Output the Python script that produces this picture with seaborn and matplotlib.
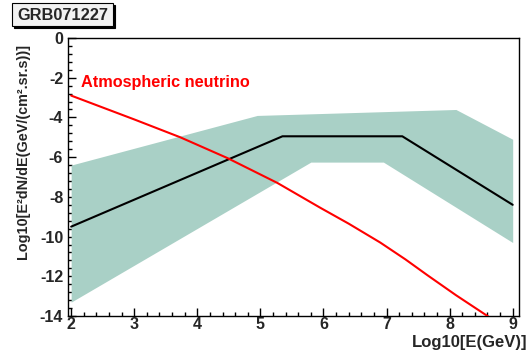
import numpy as np
import pandas as pd
import matplotlib
matplotlib.use("Agg")
import matplotlib.pyplot as plt
import seaborn as sns
from matplotlib.ticker import MultipleLocator
from matplotlib.patches import Rectangle

sns.set_style("white")
plt.rcParams['font.family'] = ['Liberation Sans', 'DejaVu Sans']
plt.rcParams['axes.unicode_minus'] = False

# Data
grb_x = [2.0, 5.35, 7.25, 9.0]
grb_y = [-9.5, -4.95, -4.95, -8.4]

band_upper_x = [2.0, 4.95, 8.1, 9.0]
band_upper_y = [-6.4, -3.9, -3.6, -5.1]
band_lower_x = [2.0, 5.8, 6.95, 9.0]
band_lower_y = [-13.3, -6.25, -6.25, -10.3]

atm_x = [2.0, 3.0, 3.73, 4.48, 5.27, 5.95, 6.4, 6.9, 7.3, 7.65, 8.1, 8.6, 9.0]
atm_y = [-2.9, -4.1, -5.0, -6.05, -7.3, -8.55, -9.35, -10.3, -11.15, -11.95, -12.95, -14.0, -14.9]

title = "GRB071227"
xlabel = "Log10[E(GeV)]"
ylabel = "Log10[E²dN/dE(GeV/(cm².sr.s))]"
atm_label = "Atmospheric neutrino"

W, H = 529, 356
fig = plt.figure(figsize=(W / 100, H / 100), dpi=100)
ax = fig.add_axes([68 / W, 1 - 316 / H, (519 - 68) / W, (316 - 38) / H])

# band
xx = np.union1d(band_upper_x, band_lower_x)
up = np.interp(xx, band_upper_x, band_upper_y)
lo = np.interp(xx, band_lower_x, band_lower_y)
ax.fill_between(xx, lo, up, color="#a9d0c6", linewidth=0, zorder=1)

df_grb = pd.DataFrame({"x": grb_x, "y": grb_y})
df_atm = pd.DataFrame({"x": atm_x, "y": atm_y})
sns.lineplot(data=df_grb, x="x", y="y", color="black", linewidth=1.5, ax=ax,
             estimator=None, sort=False, zorder=3)
sns.lineplot(data=df_atm, x="x", y="y", color="#ff0000", linewidth=1.5, ax=ax,
             estimator=None, sort=False, zorder=4)

ax.set_xlim(1.95, 9.1)
ax.set_ylim(-14, 0)
ax.xaxis.set_major_locator(MultipleLocator(1))
ax.xaxis.set_minor_locator(MultipleLocator(0.2))
ax.yaxis.set_major_locator(MultipleLocator(2))
ax.yaxis.set_minor_locator(MultipleLocator(0.4))
ax.tick_params(which="major", direction="in", length=6, width=1, color="black",
               labelsize=11.5, bottom=True, left=True, top=False, right=False)
ax.tick_params(axis="x", which="major", pad=0.5)
ax.tick_params(axis="y", which="major", pad=3.5)
ax.tick_params(which="minor", direction="in", length=3, width=1, color="black",
               bottom=True, left=True, top=False, right=False)
for lab in ax.get_xticklabels() + ax.get_yticklabels():
    lab.set_fontweight("bold")
for s in ax.spines.values():
    s.set_color("black")
    s.set_linewidth(1.0)

ax.set_xlabel("")
ax.set_ylabel("")
fig.text(527 / W, 1 - 343 / H, xlabel, ha="right", va="center", fontsize=12,
         fontweight="bold")
fig.text(23 / W, 1 - 151.5 / H, ylabel, ha="center", va="center", rotation=90,
         fontsize=10.4, fontweight="bold")
fig.text(81 / W, 1 - 83 / H, atm_label, color="#ff0000",
         fontsize=11.7, fontweight="bold", ha="left", va="center")

# title box with shadow
bx0, by1, bx1, by0 = 12, 3, 113, 26
shadow = Rectangle(((bx0 + 2) / W, 1 - (by0 + 2) / H), (bx1 - bx0) / W, (by0 - by1) / H,
                   transform=fig.transFigure, facecolor="black", edgecolor="black",
                   linewidth=0.8)
box = Rectangle((bx0 / W, 1 - by0 / H), (bx1 - bx0) / W, (by0 - by1) / H,
                transform=fig.transFigure, facecolor="#f2f2f2", edgecolor="black",
                linewidth=0.8)
fig.patches.extend([shadow, box])
fig.text((bx0 + bx1) / 2 / W, 1 - 15 / H, title, ha="center", va="center",
         fontsize=11.8, fontweight="bold")

fig.savefig("out.png", dpi=100)
